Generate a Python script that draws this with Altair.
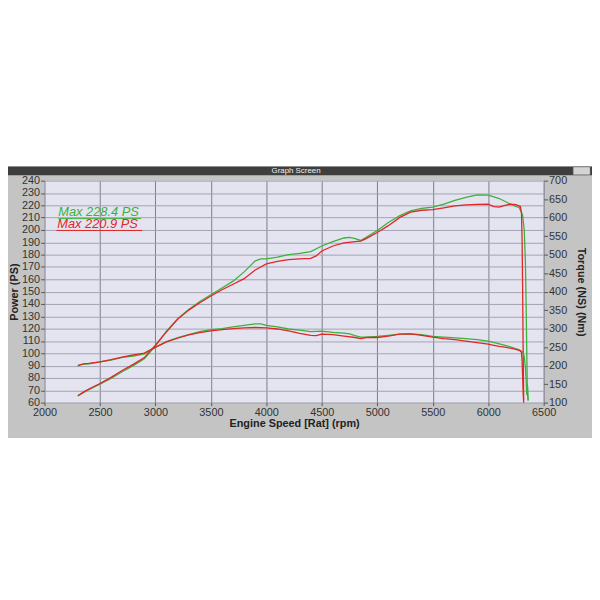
import altair as alt
import pandas as pd

# ---------------- data read from the dyno sheet ----------------
green_rpm = [2300, 2350, 2400, 2500, 2600, 2700, 2800, 2900, 3000, 3100, 3200, 3300, 3400, 3500,
             3600, 3700, 3800, 3900, 3950, 4000, 4100, 4200, 4300, 4400, 4500, 4600, 4700, 4750,
             4800, 4850, 4900, 5000, 5100, 5200, 5300, 5400, 5500, 5600, 5700, 5800, 5900, 6000,
             6100, 6200, 6280, 6310, 6325, 6335, 6342, 6348, 6352, 6356, 6360]
green_ps = [65.5, 68, 70.5, 75, 79.5, 85, 90, 95.5, 106, 118, 128, 135.5, 142, 147.5,
            153, 158.5, 166, 175, 176.5, 176.5, 178, 180, 181, 182.5, 187, 190.5, 193.5, 194,
            193, 191.5, 194, 199.5, 206, 211.5, 215.5, 217.5, 218.5, 221, 224, 226.5, 228.4, 228.2,
            225.5, 221, 218, 212, 200, 175, 140, 100, 75, 65, 62]
green_nm = [200, 204, 205, 210, 215, 222, 226, 232, 249, 265, 276, 284, 292, 297,
            300, 305, 309, 313, 313, 309, 305, 299, 296, 292, 293, 290, 288, 286,
            281, 277, 277, 279, 282, 285, 286, 284, 279, 277, 275, 273, 270, 266,
            259, 251, 243, 237, 225, 195, 160, 120, 150, 140, 105]

red_rpm = [2300, 2350, 2400, 2500, 2600, 2700, 2800, 2900, 3000, 3100, 3200, 3300, 3400, 3500,
           3600, 3700, 3800, 3900, 4000, 4100, 4200, 4300, 4400, 4450, 4500, 4600, 4700, 4800,
           4850, 4900, 5000, 5100, 5200, 5300, 5400, 5500, 5600, 5700, 5800, 5900, 6000, 6050,
           6100, 6150, 6200, 6250, 6290, 6300, 6306, 6311, 6316, 6320]
red_ps = [65.5, 68.5, 71, 75.5, 80.5, 86, 91, 96.5, 106.5, 117.5, 127.5, 135, 141, 146.5,
          151.5, 156, 160.5, 167.5, 172.5, 174.5, 176, 176.5, 177, 179, 183, 187, 189.5, 190.5,
          191, 193, 198, 203.5, 210, 214.5, 216, 216.5, 218, 219.5, 220.3, 220.7, 220.9, 219,
          218.5, 220, 220.9, 220.5, 219, 214, 190, 145, 95, 62]
red_nm = [200, 205, 206, 210, 216, 223, 229, 234, 250, 264, 274, 283, 289, 294,
          297, 300, 302, 303, 302, 299, 294, 287, 282, 281, 285, 284, 280, 276,
          273, 276, 276, 280, 285, 286, 282, 277, 273, 270, 266, 262, 258, 255,
          252, 250, 247, 244, 240, 236, 210, 165, 120, 100]

x_ticks = [2000, 2500, 3000, 3500, 4000, 4500, 5000, 5500, 6000, 6500]
ps_ticks = list(range(60, 241, 10))
nm_ticks = list(range(100, 701, 50))
legend_green = "Max 228.4 PS"
legend_red = "Max 220.9 PS"
window_title = "Graph Screen"

GREEN = "#3cb03c"
RED = "#e02626"
FONT = "Liberation Sans"

rows = []
for run, rpm, ps, nm in (("green", green_rpm, green_ps, green_nm), ("red", red_rpm, red_ps, red_nm)):
    for r, p, t in zip(rpm, ps, nm):
        rows.append({"run": run, "rpm": r, "power": p, "torque": t})
df = pd.DataFrame(rows)

W, H = 506, 225

color = alt.Color("run:N", scale=alt.Scale(domain=["green", "red"], range=[GREEN, RED]), legend=None)
xenc = alt.X("rpm:Q", scale=alt.Scale(domain=[2000, 6500], nice=False, zero=False),
             axis=alt.Axis(values=x_ticks, format="d", title="Engine Speed [Rat] (rpm)", grid=True,
                           gridColor="#7c7c8c", gridOpacity=1, tickSize=3, labelPadding=1,
                           titlePadding=0, labelFlush=False, labelOverlap=False))

base = alt.Chart(df)
power = base.mark_line(strokeWidth=1.3).encode(
    x=xenc,
    y=alt.Y("power:Q", scale=alt.Scale(domain=[60, 240], nice=False, zero=False),
            axis=alt.Axis(values=ps_ticks, format="d", title="Power (PS)", grid=True,
                          gridColor="#a2a2b2", gridOpacity=1, tickSize=4, labelPadding=1,
                          titlePadding=2, labelOverlap=False, labelFlush=False)),
    color=color,
    order="rpm:Q",
)
torque = base.mark_line(strokeWidth=1.3).encode(
    x=xenc,
    y=alt.Y("torque:Q", scale=alt.Scale(domain=[100, 700], nice=False, zero=False),
            axis=alt.Axis(values=nm_ticks, format="d", title="Torque (NS) (Nm)", orient="right",
                          grid=False, tickSize=4, labelPadding=1, titlePadding=9,
                          labelOverlap=False, labelFlush=False)),
    color=color,
    order="rpm:Q",
)

one = pd.DataFrame({"k": [0]})
top_cover = alt.Chart(one).mark_rect(color="white").encode(
    x=alt.value(-60), x2=alt.value(W + 80), y=alt.value(-200), y2=alt.value(-14.3))
bottom_cover = alt.Chart(one).mark_rect(color="white").encode(
    x=alt.value(-60), x2=alt.value(W + 80), y=alt.value(H + 36), y2=alt.value(H + 220))
title_bar = alt.Chart(one).mark_rect(color="#3e3e3e").encode(
    x=alt.value(-60), x2=alt.value(W + 80), y=alt.value(-14.3), y2=alt.value(-5.5))
btns = alt.Chart(one).mark_rect(
    color="#d4d4d4", stroke="#888888", strokeWidth=0.5).encode(
    x=alt.value(536), x2=alt.value(553), y=alt.value(-13.8), y2=alt.value(-6))
title_text = alt.Chart(pd.DataFrame({"t": [window_title]})).mark_text(
    font=FONT, fontSize=8, color="#f0f0f0", baseline="middle", align="center").encode(
    x=alt.value(W / 2 + 2), y=alt.value(-9.8), text="t:N")

leg_g = alt.Chart(pd.DataFrame({"t": [legend_green]})).mark_text(
    font=FONT, fontSize=13, fontStyle="italic", color=GREEN, align="left",
    baseline="alphabetic").encode(x=alt.value(14), y=alt.value(36), text="t:N")
leg_r = alt.Chart(pd.DataFrame({"t": [legend_red]})).mark_text(
    font=FONT, fontSize=13, fontStyle="italic", color=RED, align="left",
    baseline="alphabetic").encode(x=alt.value(13), y=alt.value(48.5), text="t:N")
ul_g = alt.Chart(one).mark_rule(color=GREEN, strokeWidth=1).encode(
    x=alt.value(14), x2=alt.value(98), y=alt.value(38.5))
ul_r = alt.Chart(one).mark_rule(color=RED, strokeWidth=1).encode(
    x=alt.value(12), x2=alt.value(99), y=alt.value(50.5))

chart = alt.layer(
    power, torque, top_cover, bottom_cover, title_bar, btns, title_text, leg_g, leg_r, ul_g, ul_r
).resolve_scale(y="independent").properties(
    width=W, height=H,
    autosize=alt.AutoSizeParams(type="none"),
    padding={"left": 37, "top": 171, "right": 49, "bottom": 190},
    background="#c4c4c4",
).configure_view(fill="#e4e4f0", strokeWidth=0).configure_axis(
    labelFont=FONT, labelFontSize=11, labelColor="#333333",
    titleFont=FONT, titleFontSize=11, titleFontWeight="bold", titleColor="#222222",
    tickColor="#555555", domain=False,
)

chart.save("out.html", embed_options={"renderer": "svg", "actions": False})
